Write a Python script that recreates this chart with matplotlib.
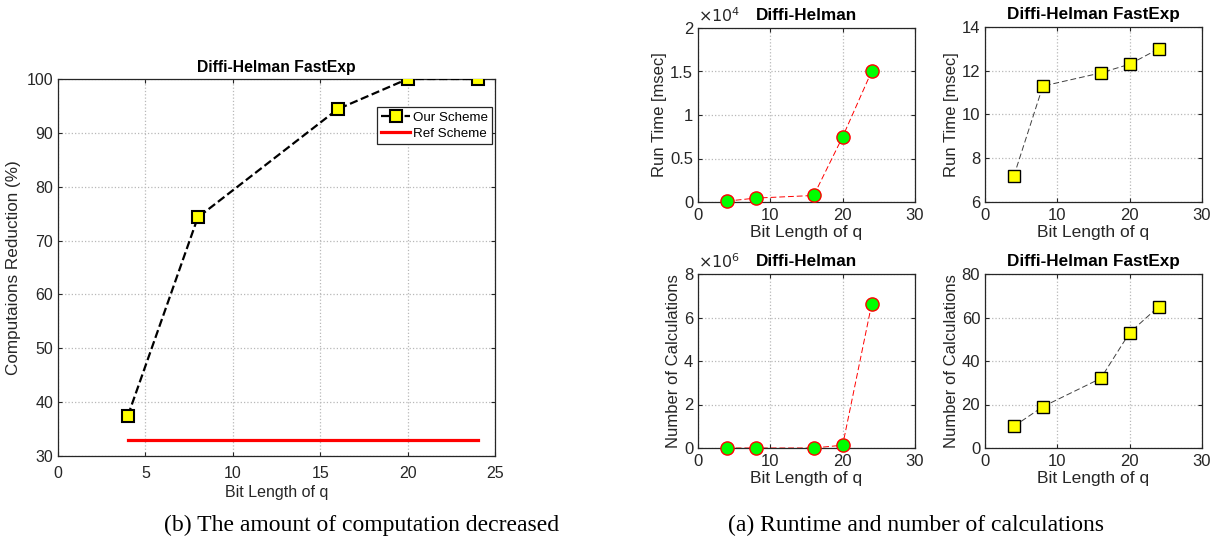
import matplotlib.pyplot as plt
from matplotlib.ticker import FuncFormatter, MultipleLocator

# data
bits = [4, 8, 16, 20, 24]
reduction_ours = [37.5, 74.3, 94.4, 100, 100]
reduction_ref = [33, 33, 33, 33, 33]

runtime_dh = [100, 450, 750, 7500, 15000]
runtime_fast = [7.2, 11.3, 11.9, 12.3, 13.0]

calc_dh = [0, 0, 0, 1.3e5, 6.6e6]
calc_fast = [10, 19, 32, 53, 65]

W, H = 1217, 542
plt.rcParams['font.family'] = ['Liberation Sans', 'DejaVu Sans']
plt.rcParams['axes.linewidth'] = 0.9

fig = plt.figure(figsize=(W / 100, H / 100), dpi=100)


def box(x0, y0, x1, y1):
    # pixel box (top-left origin) -> figure fraction
    return [x0 / W, (H - y1) / H, (x1 - x0) / W, (y1 - y0) / H]


def style(ax, fs, xpad=3.5):
    ax.grid(True, color='#b8b8b8', linestyle=':', linewidth=0.9)
    ax.set_axisbelow(True)
    ax.tick_params(direction='in', labelsize=fs, colors='#262626', length=3,
                   top=True, right=True)
    ax.tick_params(axis='x', pad=xpad)
    for s in ax.spines.values():
        s.set_color('#262626')


# left panel
ax = fig.add_axes(box(58, 79, 495, 456))
ax.plot(bits, reduction_ours, '--s', color='black', lw=1.6, ms=9,
        mfc='yellow', mec='black', mew=1.5, label='Our Scheme', zorder=3)
ax.plot(bits, reduction_ref, '-', color='red', lw=2.3, label='Ref Scheme')
ax.set_xlim(0, 25)
ax.set_ylim(30, 100)
ax.xaxis.set_major_locator(MultipleLocator(5))
ax.yaxis.set_major_locator(MultipleLocator(10))
style(ax, 11.5, xpad=7)
ax.set_xlabel('Bit Length of q', fontsize=11.5, color='#262626', labelpad=3)
ax.set_ylabel('Computaions Reduction (%)', fontsize=12.3, color='#262626')
ax.set_title('Diffi-Helman FastExp', fontsize=11.3, fontweight='bold', pad=5)
leg = ax.legend(loc='upper right', bbox_to_anchor=(0.993, 0.925), fontsize=9.6,
                fancybox=False, edgecolor='#262626', framealpha=1,
                handlelength=2.2, borderpad=0.3, labelspacing=0.3,
                handletextpad=0.2, borderaxespad=0)
leg.get_frame().set_linewidth(0.9)

# small panels
small = [
    (box(698, 28, 915, 202), runtime_dh, 'o', 'red', 'lime',
     'Run Time [msec]', 'Diffi-Helman', (0, 2e4), 0.5e4, 1e4, r'$\times10^4$'),
    (box(985, 27, 1202, 202), runtime_fast, 's', '#404040', 'yellow',
     'Run Time [msec]', 'Diffi-Helman FastExp', (6, 14), 2, 1, None),
    (box(698, 274, 915, 448), calc_dh, 'o', 'red', 'lime',
     'Number of Calculations', 'Diffi-Helman', (0, 8e6), 2e6, 1e6, r'$\times10^6$'),
    (box(985, 274, 1202, 448), calc_fast, 's', '#404040', 'yellow',
     'Number of Calculations', 'Diffi-Helman FastExp', (0, 80), 20, 1, None),
]

for rect, vals, mk, lc, fc, ylab, title, ylim, step, scale, off in small:
    a = fig.add_axes(rect)
    mec = 'red' if mk == 'o' else 'black'
    ms = 9.5 if mk == 'o' else 8.5
    a.plot(bits, vals, '--', color=lc, lw=0.7, dashes=(6, 3), zorder=2)
    a.plot(bits, vals, mk, ms=ms, mfc=fc, mec=mec, mew=1.0, zorder=3,
           clip_on=False)
    a.set_xlim(0, 30)
    a.set_ylim(*ylim)
    a.xaxis.set_major_locator(MultipleLocator(10))
    a.yaxis.set_major_locator(MultipleLocator(step))
    a.yaxis.set_major_formatter(FuncFormatter(lambda v, p, s=scale: '%g' % (v / s)))
    style(a, 12, xpad=4)
    a.set_xlabel('Bit Length of q', fontsize=12.5, color='#262626', labelpad=2)
    a.set_ylabel(ylab, fontsize=12, color='#262626', labelpad=2)
    a.set_title(title, fontsize=12.3, fontweight='bold', pad=6)
    if off:
        a.text(0.0, 1.015, off, transform=a.transAxes, fontsize=11.5,
               color='#262626', ha='left', va='bottom')

fig.text(362 / W, 1 - 525 / H, '(b) The amount of computation decreased',
         family='Liberation Serif', fontsize=17, ha='center', va='center')
fig.text(916 / W, 1 - 525 / H, '(a) Runtime and number of calculations',
         family='Liberation Serif', fontsize=17, ha='center', va='center')

fig.savefig('out.png', dpi=100)
